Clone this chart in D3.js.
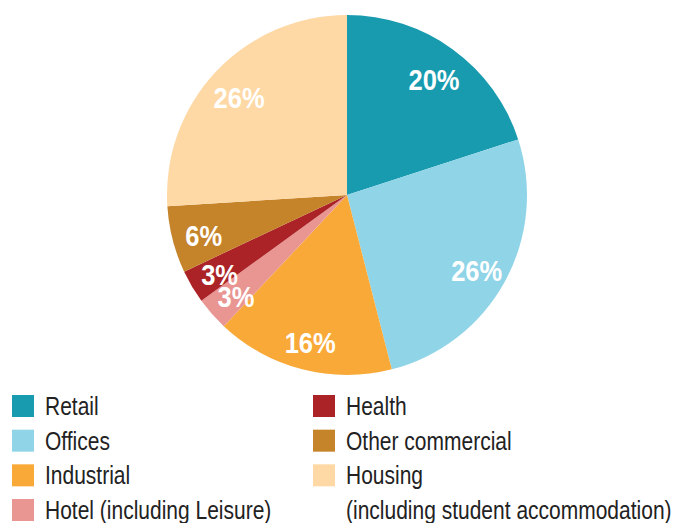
<!DOCTYPE html>
<html>
<head>
<meta charset="utf-8">
<script src="https://cdn.jsdelivr.net/npm/d3@7"></script>
<style>
  body { margin: 0; background: #fff; }
  svg { display: block; font-family: "Liberation Sans", Arial, sans-serif; }
</style>
</head>
<body>
<div id="app"></div>
<script>
// Data
const categories = ["Retail", "Offices", "Industrial", "Hotel (including Leisure)", "Health", "Other commercial", "Housing"];
const shares = [20, 26, 16, 3, 3, 6, 26];
const colors = ["#189aaf", "#8fd4e7", "#f9a937", "#e99592", "#ab2327", "#c5832a", "#fed8a5"];

// Legend: two columns, the housing entry wraps onto a second line
const legendLeft = ["Retail", "Offices", "Industrial", "Hotel (including Leisure)"];
const legendRight = ["Health", "Other commercial", "Housing"];
const housingNote = "(including student accommodation)";

const width = 676, height = 523;
const cx = 347, cy = 195, radius = 180;
const legendSqueeze = 0.84; // condensed look with the fonts we have
const labelSqueeze = 0.88;

const svg = d3.select("#app").append("svg")
  .attr("width", width)
  .attr("height", height);

const color = d3.scaleOrdinal().domain(categories).range(colors);

const pie = d3.pie().sort(null).value(d => d.value);
const arcs = pie(categories.map((c, i) => ({ name: c, value: shares[i] })));

const arc = d3.arc().innerRadius(0).outerRadius(radius);
const labelArc = d3.arc().innerRadius(148).outerRadius(148);

const g = svg.append("g").attr("transform", `translate(${cx},${cy})`);

g.selectAll("path")
  .data(arcs)
  .join("path")
  .attr("d", arc)
  .attr("fill", d => color(d.data.name));

g.selectAll("text")
  .data(arcs)
  .join("text")
  .attr("transform", d => `translate(${labelArc.centroid(d)}) scale(${labelSqueeze},1)`)
  .attr("text-anchor", "middle")
  .attr("dy", "0.5em")
  .attr("fill", "#fff")
  .attr("font-weight", "bold")
  .attr("font-size", 29)
  .text(d => d.data.value + "%");

// Legend
const rowY = d3.scalePoint().domain(d3.range(4)).range([406, 510]);

function legendText(sel, x, y, s) {
  return sel.append("text")
    .attr("transform", `translate(${x},${y}) scale(${legendSqueeze},1)`)
    .attr("dy", "0.36em")
    .attr("font-size", 25)
    .attr("fill", "#222")
    .text(s);
}

function legendColumn(items, x) {
  const rows = svg.append("g").selectAll("g")
    .data(items)
    .join("g")
    .attr("transform", (d, i) => `translate(${x},${rowY(i)})`);
  rows.append("rect")
    .attr("x", 0).attr("y", -11)
    .attr("width", 22).attr("height", 22)
    .attr("fill", d => color(d));
  rows.each(function(d) { legendText(d3.select(this), 33, 0, d); });
}

legendColumn(legendLeft, 12);
legendColumn(legendRight, 313);
legendText(svg, 346, rowY(3), housingNote);
</script>
</body>
</html>
